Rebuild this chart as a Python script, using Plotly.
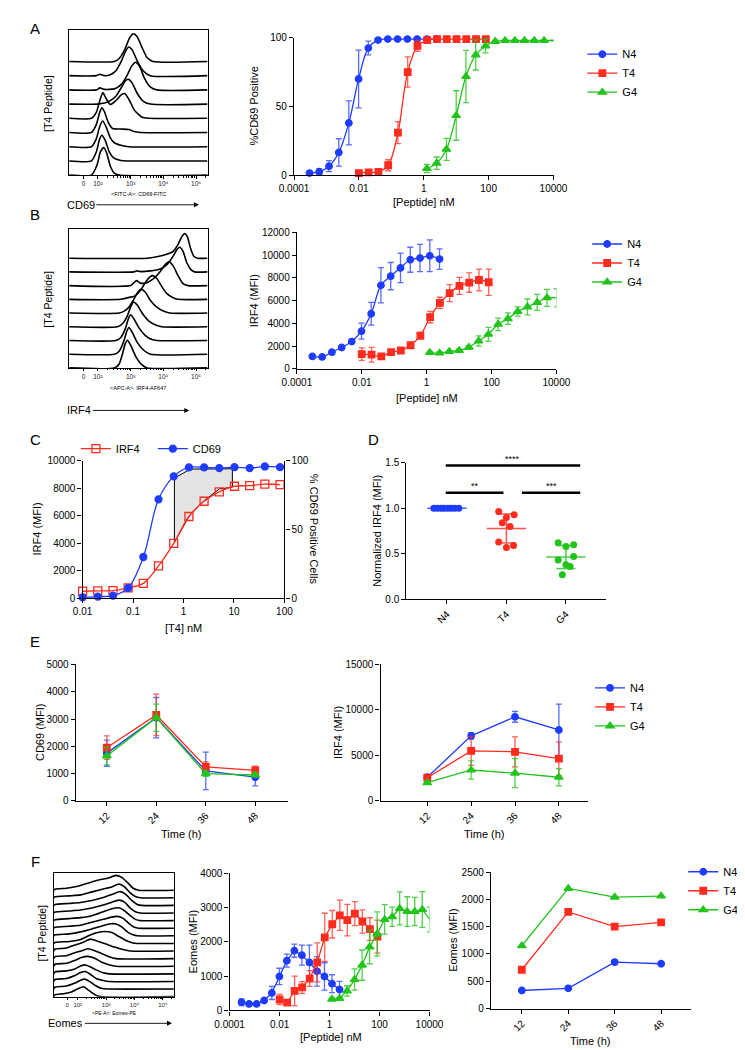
import numpy as np
import plotly.graph_objects as go

W, H = 745, 1050
FONT = "Liberation Sans, Arial, sans-serif"
BLUE = "#1e3cff"
RED = "#ff2b1e"
GREEN = "#22c41c"
ERR = {BLUE: "rgba(30,60,255,0.75)", RED: "rgba(255,43,30,0.75)", GREEN: "rgba(34,196,28,0.8)"}

# ---------------- data ----------------
peptides = ["N4", "T4", "G4"]
n4_dose = [0.0003, 0.0006, 0.0012, 0.0024, 0.0049, 0.0098, 0.0195, 0.039, 0.078, 0.156, 0.3125, 0.625, 1.25, 2.5]
t4_dose = [0.01, 0.02, 0.04, 0.08, 0.16, 0.32, 0.64, 1.28, 2.56, 5.12, 10.24, 20.48, 40.96, 81.92]
g4_dose = [1.25, 2.5, 5, 10, 20, 40, 80, 160, 320, 640, 1280, 2560, 5120, 10240]

# A: %CD69 positive
a_n4 = [1.5, 2.5, 6.5, 16.5, 38, 70, 92.5, 98.3, 99, 99, 99, 99, 99, 99]
a_n4_err = [0.5, 2, 4, 10, 16, 21, 5, 0.5, 0.3, 0.3, 0.3, 0.3, 0.3, 0.3]
a_t4 = [1.4, 2, 2.4, 7.2, 31, 75, 94, 98.3, 99, 99, 99, 99, 99, 99]
a_t4_err = [0.3, 0.5, 0.8, 4, 8, 11, 4, 1, 0.5, 0.3, 0.3, 0.3, 0.3, 0.3]
a_g4 = [4.8, 8.7, 18.8, 43.4, 71.8, 87.5, 94, 97.3, 98, 98, 98, 98, 98, 98]
a_g4_err = [3, 4.5, 8, 18, 19, 11, 5, 1, 0.5, 0.3, 0.3, 0.3, 0.3, 0.3]

# B: IRF4 MFI
b_n4 = [1100, 1050, 1470, 1880, 2400, 3320, 4850, 7350, 8160, 8880, 9600, 9750, 9950, 9660]
b_n4_err = [100, 80, 100, 120, 150, 700, 1000, 1550, 1200, 1300, 1100, 1200, 1400, 900]
b_t4 = [1300, 1250, 1100, 1470, 1620, 2080, 2920, 4560, 5800, 6660, 7300, 7590, 7820, 7620]
b_t4_err = [550, 650, 150, 150, 150, 200, 300, 500, 500, 750, 750, 850, 950, 1150]
b_g4 = [1440, 1390, 1530, 1620, 1900, 2450, 3050, 3920, 4420, 5050, 5450, 5850, 6250, 6250]
b_g4_err = [100, 100, 100, 120, 150, 450, 600, 550, 500, 400, 700, 700, 750, 800]

# C: T4 IRF4 vs CD69
c_dose = [0.01, 0.02, 0.04, 0.08, 0.16, 0.32, 0.64, 1.28, 2.56, 5.12, 10.24, 20.48, 40.96, 81.92]
c_irf4 = [510, 530, 550, 750, 1080, 2360, 4000, 5950, 7060, 7740, 8150, 8190, 8310, 8270]
c_cd69 = [0.7, 1.2, 1.9, 7.5, 30, 72, 88.7, 95.2, 95.2, 94.7, 95.4, 94.7, 95.9, 95.4]
c_shade_x = [0.66, 0.66, 1.38, 9.3, 9.3, 5.12, 2.56, 1.28, 0.66]
c_shade_y = [4050, 8750, 9400, 9420, 8080, 7950, 7100, 5950, 4050]

# D: normalized IRF4
d_n4 = [1.0, 1.0, 1.0, 1.0, 1.0, 1.0, 1.0, 1.0]
d_t4 = [0.965, 0.93, 0.90, 0.84, 0.80, 0.63, 0.59, 0.57]
d_g4 = [0.62, 0.58, 0.60, 0.47, 0.43, 0.38, 0.36, 0.27]
d_sig_labels = ["**", "***", "****"]

# E: time course
e_time = [12, 24, 36, 48]
e_cd69_n4 = [1750, 3050, 1100, 870]
e_cd69_n4_err = [480, 740, 690, 320]
e_cd69_t4 = [1950, 3150, 1250, 1120]
e_cd69_t4_err = [430, 760, 180, 150]
e_cd69_g4 = [1650, 3050, 1000, 950]
e_cd69_g4_err = [330, 500, 100, 80]
e_irf4_n4 = [2600, 7150, 9250, 7800]
e_irf4_n4_err = [150, 350, 600, 2850]
e_irf4_t4 = [2550, 5500, 5400, 4650]
e_irf4_t4_err = [200, 1600, 1650, 1850]
e_irf4_g4 = [2000, 3400, 3050, 2600]
e_irf4_g4_err = [150, 1000, 1600, 950]

# F: Eomes
f_n4 = [240, 190, 190, 290, 510, 990, 1450, 1740, 1610, 1400, 1140, 990, 780, 610]
f_n4_err = [100, 40, 40, 60, 190, 240, 190, 190, 290, 500, 430, 400, 260, 240]
f_t4 = [320, 230, 570, 670, 930, 1400, 2130, 2510, 2770, 2630, 2820, 2590, 2370, 2150]
f_t4_err = [150, 20, 430, 170, 230, 570, 700, 400, 440, 460, 350, 340, 330, 480]
f_g4 = [330, 350, 570, 900, 1320, 1850, 2230, 2650, 2730, 2970, 2880, 2880, 2940, 2650]
f_g4_err = [30, 30, 150, 310, 440, 490, 640, 430, 280, 480, 430, 410, 520, 360]
f_time = [12, 24, 36, 48]
f_time_n4 = [330, 370, 850, 820]
f_time_t4 = [710, 1770, 1500, 1580]
f_time_g4 = [1150, 2200, 2040, 2060]

# Histogram ridges, top to bottom: x = log10 fluorescence, h = ridge height
a_ridge_u = [
    [2.5, 2.65, 2.82, 2.97, 3.09, 3.2, 3.35, 3.5, 3.68],
    [1.95, 2.06, 2.2, 2.38, 2.55, 2.72, 2.85, 2.94, 3.05, 3.2, 3.38, 3.6],
    [1.95, 2.06, 2.2, 2.5, 2.7, 2.88, 3.03, 3.15, 3.27, 3.42, 3.6, 3.8],
    [2.0, 2.2, 2.35, 2.55, 2.72, 2.85, 2.94, 3.05, 3.2, 3.38, 3.6],
    [1.8, 1.95, 2.06, 2.15, 2.25, 2.38, 2.55, 2.72, 2.82, 2.95, 3.12, 3.35, 3.55],
    [1.8, 1.95, 2.05, 2.12, 2.2, 2.32, 2.45, 2.7, 2.95, 3.1, 3.3],
    [1.8, 1.95, 2.06, 2.15, 2.25, 2.38, 2.5, 2.7, 2.95],
    [1.8, 1.95, 2.05, 2.12, 2.22, 2.35, 2.48, 2.7, 2.9],
    [1.8, 1.97, 2.08, 2.18, 2.27, 2.38, 2.5, 2.65],
]
a_ridge_h = [
    [0, 3, 12, 24, 28, 25, 14, 4, 0],
    [0, 1.5, 0, 1, 5, 15, 25, 29, 26, 15, 5, 0],
    [0, 2, 0.5, 1, 5, 14, 24, 28, 24, 12, 3, 0],
    [0, 1, 3, 8, 17, 24, 25, 21, 11, 3, 0],
    [0, 6, 18, 26, 20, 14, 18, 24, 25, 19, 8, 1, 0],
    [0, 8, 20, 25, 21, 10, 4, 3.5, 3, 1, 0],
    [0, 8, 21, 26, 20, 9, 4, 1.5, 0],
    [0, 9, 22, 26, 21, 9, 3, 0.5, 0],
    [0, 10, 24, 28, 22, 9, 2, 0],
]
b_ridge_u = [
    [3.5, 3.8, 4.1, 4.3, 4.45, 4.57, 4.65, 4.73, 4.83, 4.93, 5.05],
    [3.1, 3.2, 3.3, 3.6, 3.9, 4.1, 4.3, 4.42, 4.5, 4.6, 4.72, 4.85, 4.95],
    [3.0, 3.1, 3.18, 3.3, 3.5, 3.7, 3.9, 4.05, 4.18, 4.3, 4.45, 4.6, 4.75],
    [2.7, 2.95, 3.1, 3.3, 3.45, 3.6, 3.68, 3.8, 3.95, 4.1, 4.3, 4.45],
    [2.65, 2.8, 2.95, 3.1, 3.22, 3.32, 3.45, 3.6, 3.8, 4.0, 4.2],
    [2.6, 2.75, 2.9, 3.0, 3.09, 3.2, 3.35, 3.55, 3.75, 3.95],
    [2.55, 2.7, 2.85, 2.93, 3.0, 3.1, 3.25, 3.45, 3.65, 3.8],
    [2.5, 2.65, 2.8, 2.88, 2.95, 3.05, 3.2, 3.4, 3.6],
    [2.5, 2.65, 2.75, 2.83, 2.9, 3.0, 3.15, 3.35, 3.5],
]
b_ridge_h = [
    [0, 1.5, 4, 7, 14, 22, 25, 22, 10, 2, 0],
    [0, 1, 0.3, 1, 3, 7, 16, 23, 25, 21, 9, 2, 0],
    [0, 3, 5, 2.5, 3, 7, 14, 21, 24, 20, 10, 2, 0],
    [0, 2, 3, 9, 17, 23, 24, 21, 13, 6, 1.5, 0],
    [0, 2, 6, 14, 21, 24, 21, 13, 6, 2, 0],
    [0, 3, 11, 20, 25, 22, 14, 6, 2, 0],
    [0, 3, 13, 22, 26, 22, 13, 5, 1, 0],
    [0, 3, 14, 23, 27, 22, 12, 4, 0],
    [0, 4, 14, 24, 28, 23, 12, 3, 0],
]
f_ridge_u = [
    [1.2, 1.6, 2.0, 2.35, 2.7, 2.85, 3.05, 3.35, 3.55, 3.75, 3.95, 4.15],
    [1.2, 1.7, 2.1, 2.5, 2.9, 3.2, 3.45, 3.65, 3.85, 4.05, 4.2],
    [1.2, 1.7, 2.1, 2.5, 2.9, 3.2, 3.5, 3.7, 3.9, 4.1, 4.25],
    [1.2, 1.7, 2.1, 2.5, 2.9, 3.2, 3.45, 3.65, 3.85, 4.05, 4.2],
    [1.2, 1.7, 2.1, 2.5, 2.9, 3.2, 3.45, 3.65, 3.85, 4.05, 4.2],
    [1.2, 1.7, 2.1, 2.5, 2.9, 3.15, 3.4, 3.6, 3.8, 4.0, 4.15],
    [1.2, 1.7, 2.1, 2.5, 2.85, 3.1, 3.35, 3.55, 3.75, 3.95, 4.1],
    [1.2, 1.7, 2.1, 2.4, 2.7, 2.95, 3.2, 3.45, 3.7, 3.95, 4.1],
    [1.2, 1.6, 1.9, 2.2, 2.45, 2.7, 3.0, 3.3, 3.6, 3.85],
    [1.2, 1.6, 1.9, 2.15, 2.37, 2.6, 2.85, 3.1, 3.35],
    [1.2, 1.6, 1.9, 2.15, 2.35, 2.6, 2.85, 3.1, 3.35],
    [1.2, 1.6, 1.9, 2.1, 2.27, 2.45, 2.65, 2.9, 3.1],
    [1.2, 1.6, 1.9, 2.1, 2.27, 2.45, 2.65, 2.9, 3.1],
    [1.2, 1.6, 1.9, 2.1, 2.25, 2.45, 2.65, 2.85, 3.05],
    [1.2, 1.5, 1.8, 2.0, 2.2, 2.4, 2.6, 2.8],
]
f_ridge_h = [
    [1, 2, 4, 7, 10, 11, 12, 15, 13, 8, 2, 0],
    [1, 2, 3, 6, 9, 11, 14, 11, 5, 1, 0],
    [1, 2, 3, 5, 8, 11, 14, 11, 5, 1, 0],
    [1, 2, 3, 5, 8, 11, 13, 11, 5, 1, 0],
    [1, 2, 3, 5, 9, 12, 13, 10, 5, 1, 0],
    [1, 2, 3, 6, 9, 11, 12, 10, 5, 1, 0],
    [1, 2, 4, 7, 10, 12, 12, 9, 4, 1, 0],
    [1, 2, 4, 8, 11, 12, 11, 7, 3, 0.5, 0],
    [2, 3, 6, 9, 12, 10, 7, 4, 1.5, 0],
    [2, 3, 6, 8, 10, 8, 5, 2, 0],
    [2, 3, 6, 9, 10, 8, 4, 1.5, 0],
    [2, 3, 5, 8, 9, 7, 4, 1, 0],
    [2, 3, 6, 9, 10, 7, 3, 1, 0],
    [2, 3, 6, 9, 10, 7, 3, 0.5, 0],
    [2, 3, 5, 8, 10, 6, 2, 0],
]

# ---------------- layout helpers ----------------
fig = go.Figure()
layout_axes = {}
annotations = []


def ax_ids(i):
    return ("x" if i == 1 else f"x{i}"), ("y" if i == 1 else f"y{i}")


def set_axes(i, x0, x1, y0, y1, xa, ya):
    xid, yid = ax_ids(i)
    xa = dict(xa)
    ya = dict(ya)
    xa.update(domain=[x0 / W, x1 / W], anchor=yid)
    ya.update(domain=[1 - y1 / H, 1 - y0 / H], anchor=xid)
    layout_axes["xaxis" if i == 1 else f"xaxis{i}"] = xa
    layout_axes["yaxis" if i == 1 else f"yaxis{i}"] = ya


def base_axis(**kw):
    d = dict(showline=True, linecolor="black", linewidth=1.4, ticks="outside",
             ticklen=4, tickwidth=1.4, tickcolor="black", showgrid=False,
             zeroline=False, tickfont=dict(size=10, family=FONT, color="black"))
    d.update(kw)
    return d


def text(t, x, y, size=11, angle=0, xanchor="center", yanchor="middle"):
    annotations.append(dict(text=t, x=x / W, y=1 - y / H, xref="paper", yref="paper",
                            showarrow=False, textangle=angle, xanchor=xanchor,
                            yanchor=yanchor, font=dict(size=size, family=FONT, color="black")))


def arrow_label(t, text_cx, head_x, y, size=11):
    annotations.append(dict(text=t, x=head_x / W, y=1 - y / H, xref="paper", yref="paper",
                            ax=text_cx - head_x, ay=0, axref="pixel", ayref="pixel",
                            showarrow=True, arrowhead=2, arrowsize=1.1, arrowwidth=0.9,
                            arrowcolor="black", standoff=0,
                            font=dict(size=size, family=FONT, color="black")))


def hist_panel(i, box, ridges_u, ridges_h, spacing, zero_u, tfont=6.5):
    x0, x1, y0, y1, ulo, uhi = box
    n = len(ridges_u)
    xid, yid = ax_ids(i)
    for k, (u, h) in enumerate(zip(ridges_u, ridges_h)):
        b = (n - 1 - k) * spacing
        xs = [ulo] + list(u) + [uhi]
        ys = [b] + [b + v for v in h] + [b]
        fig.add_trace(go.Scatter(x=xs, y=ys, mode="lines", xaxis=xid, yaxis=yid,
                                 line=dict(color="black", width=1.6, shape="spline", smoothing=0.6),
                                 showlegend=False, hoverinfo="skip"))
    minor = [np.log10(m * 10 ** d) for d in range(2, 6) for m in range(2, 10)
             if np.log10(m * 10 ** d) < uhi]
    xa = dict(range=[ulo, uhi], showline=True, mirror=True, linecolor="black", linewidth=1,
              ticks="outside", ticklen=2.5, tickwidth=0.8, tickcolor="black",
              tickvals=[zero_u, 2, 3, 4, 5],
              ticktext=["0", "10²", "10³", "10⁴", "10⁵"],
              tickfont=dict(size=tfont, family=FONT, color="#222"), showgrid=False, zeroline=False,
              minor=dict(ticks="outside", tickvals=minor, ticklen=1.5, tickwidth=0.6, tickcolor="black"))
    ya = dict(range=[0, y1 - y0], showline=True, mirror=True, linecolor="black", linewidth=1,
              ticks="", showticklabels=False, showgrid=False, zeroline=False)
    set_axes(i, x0, x1, y0, y1, xa, ya)


def series(i, x, y, err, color, symbol, name, legend=None, shape="spline", size=6.5, yi=None):
    xid, yid = ax_ids(i)
    if yi is not None:
        yid = ax_ids(yi)[1]
    kw = {}
    if err is not None:
        kw["error_y"] = dict(type="data", array=err, color=ERR[color], thickness=1.3, width=3)
    fig.add_trace(go.Scatter(
        x=x, y=y, mode="lines+markers", xaxis=xid, yaxis=yid, name=name,
        line=dict(color=color, width=1.3, shape=shape),
        marker=dict(color=color, symbol=symbol, size=size,
                    line=dict(color=color, width=1.3)),
        showlegend=legend is not None, legend=legend or "legend",
        cliponaxis=False, hoverinfo="skip", **kw))


def legend_cfg(x_px, y_px, orientation="v", size=11, **kw):
    d = dict(x=x_px / W, y=1 - y_px / H, xanchor="left", yanchor="top",
             bgcolor="rgba(0,0,0,0)", borderwidth=0, orientation=orientation,
             font=dict(size=size, family=FONT, color="black"), tracegroupgap=0,
             itemwidth=30)
    d.update(kw)
    return d


logticks = dict(tickvals=[1e-4, 1e-2, 1, 100, 1e4], ticktext=["0.0001", "0.01", "1", "100", "10000"])

# ---------------- Panel A ----------------
hist_panel(1, (48, 192, 16, 163, 1.12, 5.35), a_ridge_u, a_ridge_h, 14.375, 1.56)
text("A", 13, 15, size=15)
text("[T4 Peptide]", 26, 90, size=10.5, angle=-90)
text("&lt;FITC-A&gt;: CD69-FITC", 120, 182, size=5.5)
arrow_label("CD69", 65, 183, 193)

series(2, n4_dose, a_n4, a_n4_err, BLUE, "circle", "N4", legend="legend")
series(2, t4_dose, a_t4, a_t4_err, RED, "square", "T4", legend="legend")
series(2, g4_dose, a_g4, a_g4_err, GREEN, "triangle-up", "G4", legend="legend", size=7.5)
set_axes(2, 282, 552, 24, 163,
         base_axis(type="log", range=[-4, 4], **logticks),
         base_axis(range=[0, 100], tickvals=[0, 50, 100]))
text("%CD69 Positive", 240, 93, angle=-90)
text("[Peptide] nM", 417, 190)

# ---------------- Panel B ----------------
hist_panel(3, (48, 192, 217, 358, 1.12, 5.35), b_ridge_u, b_ridge_h, 13.875, 1.56)
text("B", 13, 203, size=15)
text("[T4 Peptide]", 26, 288, size=10.5, angle=-90)
text("&lt;APC-A&gt;: IRF4-AF647", 120, 378, size=5.5)
arrow_label("IRF4", 63, 173, 401)

series(4, n4_dose, b_n4, b_n4_err, BLUE, "circle", "N4", legend="legend2")
series(4, t4_dose, b_t4, b_t4_err, RED, "square", "T4", legend="legend2")
series(4, g4_dose, b_g4, b_g4_err, GREEN, "triangle-up", "G4", legend="legend2", size=7.5)
set_axes(4, 285, 555, 221, 359,
         base_axis(type="log", range=[-4, 4], **logticks),
         base_axis(range=[0, 12000], dtick=2000, tickformat="d"))
text("IRF4 (MFI)", 240, 290, angle=-90)
text("[Peptide] nM", 420, 388)

# ---------------- Panel C ----------------
fig.add_trace(go.Scatter(x=c_shade_x, y=c_shade_y, mode="lines", fill="toself",
                         fillcolor="#e4e4e4", line=dict(color="black", width=1),
                         xaxis="x5", yaxis="y5", showlegend=False, hoverinfo="skip"))
series(5, c_dose, c_irf4, None, RED, "square-open", "IRF4", legend="legend3", size=8)
series(5, c_dose, c_cd69, None, BLUE, "circle", "CD69", legend="legend3", size=7, yi=6)
set_axes(5, 62, 272, 452, 591,
         base_axis(type="log", range=[-2, 2], tickvals=[0.01, 0.1, 1, 10, 100],
                   ticktext=["0.01", "0.1", "1", "10", "100"]),
         base_axis(range=[0, 10000], dtick=2000, tickformat="d"))
layout_axes["yaxis6"] = base_axis(range=[0, 100], tickvals=[0, 50, 100], overlaying="y5",
                                  side="right", anchor="x5")
text("C", 13, 430, size=15)
text("IRF4 (MFI)", 15, 521, angle=-90)
text("% CD69 Positive Cells", 303, 521, angle=90)
text("[T4] nM", 167, 621)

# ---------------- Panel D ----------------
d_jitter = [[-0.22, -0.16, -0.1, -0.05, 0.01, 0.07, 0.13, 0.2],
            [-0.13, 0.13, 0.0, -0.07, 0.06, -0.13, 0.12, 0.0],
            [-0.13, 0.0, 0.13, 0.13, -0.13, 0.0, 0.07, -0.06]]
for gi, (vals, col) in enumerate(zip([d_n4, d_t4, d_g4], [BLUE, RED, GREEN])):
    m = float(np.mean(vals))
    sd = float(np.std(vals, ddof=1))
    lx = [gi - 0.33, gi + 0.33, None, gi, gi, None, gi - 0.16, gi + 0.16, None, gi - 0.16, gi + 0.16]
    ly = [m, m, None, m - sd, m + sd, None, m - sd, m - sd, None, m + sd, m + sd]
    fig.add_trace(go.Scatter(x=lx, y=ly, mode="lines", xaxis="x7", yaxis="y7",
                             line=dict(color=col, width=1.5), opacity=0.8,
                             showlegend=False, hoverinfo="skip"))
    fig.add_trace(go.Scatter(x=[gi + j for j in d_jitter[gi]], y=vals, mode="markers",
                             xaxis="x7", yaxis="y7", marker=dict(color=col, size=7),
                             showlegend=False, hoverinfo="skip", cliponaxis=False))
sig_pairs = [(-0.02, 0.95, 1.17), (1.26, 2.24, 1.17), (-0.02, 2.24, 1.47)]
sx, sy = [], []
for a, b, yv in sig_pairs:
    sx += [a, b, None]
    sy += [yv, yv, None]
fig.add_trace(go.Scatter(x=sx, y=sy, mode="lines", xaxis="x7", yaxis="y7",
                         line=dict(color="black", width=2.5), showlegend=False,
                         hoverinfo="skip", cliponaxis=False))
D_Y0, D_Y1 = 454, 592
for (a, b, yv), lab in zip(sig_pairs, d_sig_labels):
    ypx = D_Y1 - (yv + 0.07) / 1.5 * (D_Y1 - D_Y0)
    annotations.append(dict(text=lab, x=(a + b) / 2, y=1 - ypx / H, xref="x7", yref="paper",
                            showarrow=False, font=dict(size=9, family=FONT, color="black")))
set_axes(7, 399, 607, D_Y0, D_Y1,
         base_axis(range=[-0.68, 2.68], tickvals=[0, 1, 2], ticktext=peptides, tickangle=-45),
         base_axis(range=[0, 1.5], tickvals=[0, 0.5, 1.0, 1.5], tickformat=".1f"))
text("D", 365, 430, size=15)
text("Normalized IRF4 (MFI)", 368, 523, angle=-90)

# ---------------- Panel E ----------------
E_Y0, E_Y1 = 658, 796
series(8, e_time, e_cd69_n4, e_cd69_n4_err, BLUE, "circle", "N4", shape="linear")
series(8, e_time, e_cd69_t4, e_cd69_t4_err, RED, "square", "T4", shape="linear")
series(8, e_time, e_cd69_g4, e_cd69_g4_err, GREEN, "triangle-up", "G4", shape="linear", size=7.5)
set_axes(8, 55, 276, E_Y0, E_Y1,
         base_axis(range=[4.5, 56], tickvals=e_time, tickangle=-45),
         base_axis(range=[0, 5000], dtick=1000, tickformat="d"))
series(9, e_time, e_irf4_n4, e_irf4_n4_err, BLUE, "circle", "N4", legend="legend4", shape="linear")
series(9, e_time, e_irf4_t4, e_irf4_t4_err, RED, "square", "T4", legend="legend4", shape="linear")
series(9, e_time, e_irf4_g4, e_irf4_g4_err, GREEN, "triangle-up", "G4", legend="legend4",
       shape="linear", size=7.5)
set_axes(9, 372, 588, E_Y0, E_Y1,
         base_axis(range=[-0.8, 56], tickvals=e_time, tickangle=-45),
         base_axis(range=[0, 15000], dtick=5000, tickformat="d"))
text("E", 13, 635, size=15)
text("CD69 (MFI)", 17, 727, angle=-90)
text("IRF4 (MFI)", 327, 727, angle=-90)
text("Time (h)", 165, 829)
text("Time (h)", 480, 829)

# ---------------- Panel F ----------------
hist_panel(10, (32, 157, 869, 994, 1.153, 5.39), f_ridge_u, f_ridge_h, 7.69, 1.627, tfont=6)
text("F", 13, 857, size=15)
text("[T4 Peptide]", 20, 930, size=10.5, angle=-90)
text("&lt;PE-A&gt;: Eomes-PE", 95, 1011, size=5)
arrow_label("Eomes", 49, 155, 1021)

series(11, n4_dose, f_n4, f_n4_err, BLUE, "circle", "N4", shape="linear")
series(11, t4_dose, f_t4, f_t4_err, RED, "square", "T4", shape="linear")
series(11, g4_dose, f_g4, f_g4_err, GREEN, "triangle-up", "G4", shape="linear", size=7.5)
set_axes(11, 215, 423, 869, 1008,
         base_axis(type="log", range=[-4, 4], **logticks),
         base_axis(range=[0, 4000], dtick=1000, tickformat="d"))
text("Eomes (MFI)", 177, 938, angle=-90)
text("[Peptide] nM", 320, 1035)

series(12, f_time, f_time_n4, None, BLUE, "circle", "N4", legend="legend5", shape="linear")
series(12, f_time, f_time_t4, None, RED, "square", "T4", legend="legend5", shape="linear")
series(12, f_time, f_time_g4, None, GREEN, "triangle-up", "G4", legend="legend5", shape="linear",
       size=7.5)
set_axes(12, 487, 695, 868, 1006,
         base_axis(range=[4.05, 55.7], tickvals=f_time, tickangle=-45),
         base_axis(range=[0, 2500], dtick=500, tickformat="d"))
text("Eomes (MFI)", 448, 937, angle=-90)
text("Time (h)", 590, 1039)

fig.update_layout(
    width=W, height=H, margin=dict(l=0, r=0, t=0, b=0),
    paper_bgcolor="white", plot_bgcolor="rgba(0,0,0,0)",
    font=dict(family=FONT, color="black", size=11),
    annotations=annotations,
    legend=legend_cfg(582, 26),
    legend2=legend_cfg(587, 218),
    legend3=legend_cfg(55, 425, orientation="h", entrywidth=32, entrywidthmode="pixels"),
    legend4=legend_cfg(590, 667),
    legend5=legend_cfg(687, 853),
    **layout_axes,
)

fig.write_html("out.html")
